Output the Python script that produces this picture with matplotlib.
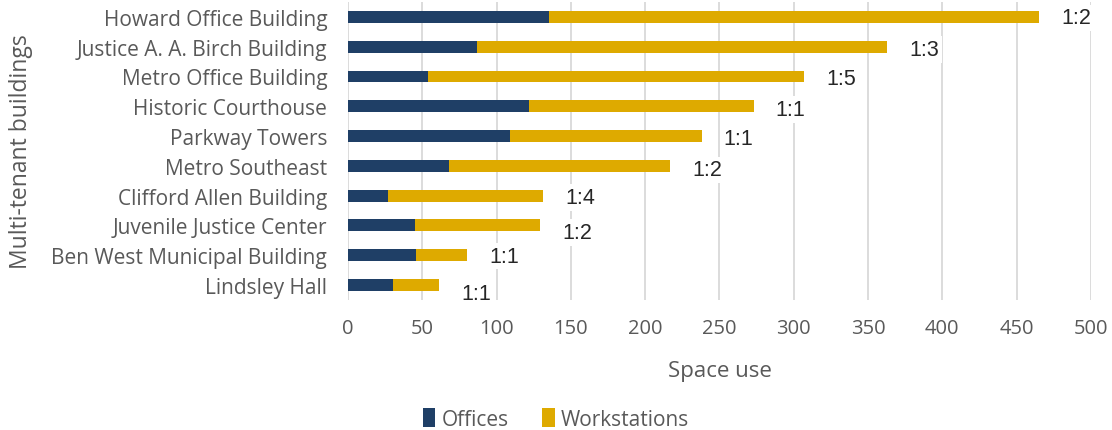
import numpy as np
import matplotlib.pyplot as plt

buildings = ["Howard Office Building", "Justice A. A. Birch Building", "Metro Office Building",
             "Historic Courthouse", "Parkway Towers", "Metro Southeast",
             "Clifford Allen Building", "Juvenile Justice Center",
             "Ben West Municipal Building", "Lindsley Hall"]
offices = [135, 87, 54, 122, 109, 68, 27, 45, 46, 30]
workstations = [330, 276, 253, 151, 129, 149, 104, 84, 34, 31]
ratios = ["1:2", "1:3", "1:5", "1:1", "1:1", "1:2", "1:4", "1:2", "1:1", "1:1"]
label_drop = [1, 3, 2, 3, 2, 4, 2, 7, 1, 9]  # px the ratio label sits below the bar centre

navy = "#1f3f66"
gold = "#deaa00"
grey = "#595959"

plt.rcParams['font.family'] = ['Open Sans', 'DejaVu Sans']

fig = plt.figure(figsize=(11.12, 4.31), dpi=100)
ax = fig.add_axes([0.313, 0.302, 0.668, 0.691])

y = np.arange(len(buildings))
ax.barh(y, offices, height=0.4, color=navy, label="Offices", zorder=2)
ax.barh(y, workstations, left=offices, height=0.4, color=gold, label="Workstations", zorder=2)

for i, r in enumerate(ratios):
    total = offices[i] + workstations[i]
    ax.annotate(r, (total, i), xytext=(16, -label_drop[i] * 0.72), textcoords="offset points",
                ha="left", va="center", fontsize=15.5, color="#262626", family="Liberation Sans",
                bbox=dict(facecolor="white", edgecolor="none", pad=2), zorder=3)

ax.set_xlim(0, 500)
ax.set_ylim(len(buildings) - 0.5, -0.5)
ax.set_xticks(np.arange(0, 501, 50))
ax.set_yticks(y)
ax.set_yticklabels(buildings)
ax.grid(axis="x", color="#d9d9d9", linewidth=1.3, zorder=0)
ax.set_axisbelow(True)
for s in ax.spines.values():
    s.set_visible(False)
ax.tick_params(axis="x", length=0, labelsize=14.5, labelcolor=grey, pad=13)
ax.tick_params(axis="y", length=0, labelsize=15, labelcolor=grey, pad=15)
ax.set_xlabel("Space use", fontsize=16, color=grey, labelpad=16)
ax.set_ylabel("Multi-tenant buildings", fontsize=16.5, color=grey)
ax.yaxis.set_label_coords(-0.424, 0.5)

fig.legend(loc="center", bbox_to_anchor=(0.5, 0.025), ncol=2, frameon=False,
           labelcolor=grey, handlelength=0.6, handleheight=1.0,
           handletextpad=0.3, columnspacing=1.6, prop={"family": "Open Sans", "size": 15})

fig.savefig("out.png", dpi=100)
